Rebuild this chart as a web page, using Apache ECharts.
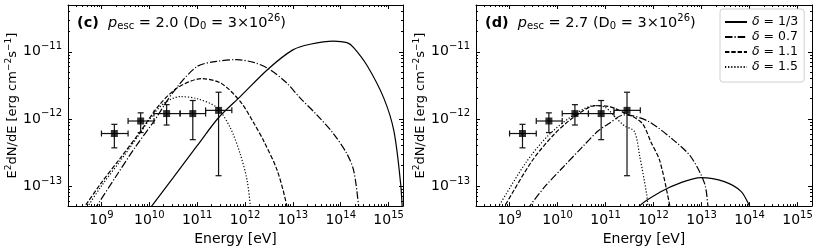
<!DOCTYPE html>
<html><head><meta charset="utf-8">
<script src="https://cdn.jsdelivr.net/npm/echarts@6/dist/echarts.min.js"></script>
<style>html,body{margin:0;padding:0;background:#fff}#c{width:818px;height:251px}</style>
</head><body><div id="c"></div>
<script>
// ---------- data (E in eV, E^2 dN/dE in erg cm^-2 s^-1) ----------
const seriesNames = ['δ = 1/3', 'δ = 0.7', 'δ = 1.1', 'δ = 1.5'];

// measured points (same in both panels)
const obsE    = [1.86e9, 6.6e9, 2.3e10, 8.1e10, 2.8e11];
const obsF    = [6.05e-13, 9.3e-13, 1.2e-12, 1.2e-12, 1.34e-12];
const obsElo  = [1.0e9, 3.6e9, 1.25e10, 4.4e10, 1.5e11];
const obsEhi  = [3.6e9, 1.25e10, 4.4e10, 1.5e11, 5.3e11];
const obsFlo  = [3.7e-13, 6.25e-13, 8.1e-13, 4.9e-13, 1.42e-13];
const obsFhi  = [8.3e-13, 1.23e-12, 1.63e-12, 1.88e-12, 2.5e-12];

// panel (c): p_esc = 2.0
const cSolid = [[8.9e9,4.0e-14],[1.12e10,5.0e-14],[3.16e10,1.33e-13],[1.0e11,3.98e-13],[2.79e11,1.04e-12],[7.94e11,2.15e-12],[3.09e12,5.6e-12],[1.0e13,1.07e-11],[2.29e13,1.3e-11],[7.08e13,1.45e-11],[1.35e14,1.37e-11],[1.86e14,1.16e-11],[3.55e14,6.25e-12],[7.94e14,2.04e-12],[1.29e15,6.6e-13],[1.78e15,1.1e-13],[1.95e15,4.0e-14]];
const cDashDot = [[7.08e8,4.37e-14],[7.94e8,5.0e-14],[2.0e9,1.38e-13],[5.0e9,3.72e-13],[1.26e10,9.3e-13],[3.16e10,2.51e-12],[9.8e10,6.0e-12],[2.51e11,7.2e-12],[6.76e11,7.66e-12],[1.58e12,6.9e-12],[3.09e12,5.6e-12],[7.08e12,3.55e-12],[1.43e13,2.04e-12],[3.16e13,1.15e-12],[7.08e13,6.0e-13],[1.35e14,3.0e-13],[1.86e14,1.7e-13],[2.37e14,5.0e-14],[2.57e14,2.5e-14]];
const cDashed = [[3.98e8,4.37e-14],[4.54e8,5.0e-14],[1.0e9,1.12e-13],[2.51e9,2.63e-13],[6.31e9,6.3e-13],[1.58e10,1.58e-12],[3.98e10,2.95e-12],[1.26e11,3.98e-12],[3.16e11,3.39e-12],[7.94e11,1.82e-12],[1.58e12,8.3e-13],[2.45e12,4.7e-13],[4.68e12,1.72e-13],[7.5e12,5.0e-14],[8.5e12,2.5e-14]];
const cDotted = [[4.68e8,4.37e-14],[5.25e8,5.0e-14],[1.0e9,1.0e-13],[2.51e9,2.4e-13],[6.31e9,6.0e-13],[1.05e10,1.02e-12],[2.0e10,1.7e-12],[4.42e10,2.15e-12],[1.0e11,2.0e-12],[2.57e11,1.48e-12],[4.9e11,7.4e-13],[7.94e11,3.0e-13],[1.1e12,1.23e-13],[1.29e12,5.0e-14],[1.38e12,2.5e-14]];

// panel (d): p_esc = 2.7
const dSolid = [[4.8e11,4.0e-14],[5.07e11,5.0e-14],[1.38e12,8.1e-14],[3.73e12,1.12e-13],[9.7e12,1.33e-13],[2.99e13,1.16e-13],[6.64e13,8.3e-14],[1.0e14,5.0e-14],[1.1e14,4.0e-14]];
const dDashDot = [[2.4e9,4.37e-14],[2.63e9,5.0e-14],[5.6e9,1.0e-13],[1.3e10,1.9e-13],[3.16e10,3.7e-13],[6.97e10,6.6e-13],[1.11e11,8.3e-13],[2.47e11,1.15e-12],[7.55e11,9.3e-13],[2.72e12,4.7e-13],[6.03e12,2.7e-13],[1.15e13,1.1e-13],[1.36e13,5.0e-14],[1.45e13,3.2e-14]];
const dDashed = [[7.08e8,4.37e-14],[7.9e8,5.0e-14],[2.85e9,2.28e-13],[7.94e9,5.6e-13],[2.1e10,1.04e-12],[6.31e10,1.58e-12],[1.26e11,1.51e-12],[2.47e11,1.23e-12],[3.98e11,1.05e-12],[6.03e11,8.3e-13],[8.85e11,4.5e-13],[1.34e12,2.4e-13],[2.19e12,5.0e-14],[2.4e12,3.2e-14]];
const dDotted = [[5.25e8,4.37e-14],[5.94e8,5.0e-14],[2.24e9,2.28e-13],[6.31e9,5.6e-13],[1.79e10,1.04e-12],[5.86e10,1.58e-12],[1.0e11,1.48e-12],[1.68e11,1.02e-12],[2.47e11,7.9e-13],[3.98e11,6.5e-13],[5.14e11,2.8e-13],[7.1e11,7.9e-14],[7.66e11,5.0e-14],[8.1e11,3.2e-14]];

// axis ranges and tick labels
const xMin = 2e8, xMax = 2e15, yMin = 5e-14, yMax = 5e-11;
const xMajor = [1e9, 1e10, 1e11, 1e12, 1e13, 1e14, 1e15];
const yMajor = [1e-13, 1e-12, 1e-11];

// ---------- helpers ----------
const FONT = 'DejaVu Sans';
function minorTicks(lo, hi, e0, e1) {
  const out = [];
  for (let e = e0; e <= e1; e++) for (let m = 2; m <= 9; m++) {
    const v = Number((m + 'e' + e));
    if (v >= lo && v <= hi) out.push(v);
  }
  return out;
}
const xMinor = minorTicks(xMin, xMax, 8, 15);
const yMinor = minorTicks(yMin, yMax, -14, -11);

const tickRich = {
  b: {fontFamily: FONT, fontSize: 14, color: '#000'},
  s: {fontFamily: FONT, fontSize: 10, color: '#000', padding: [0, 0, 10, 0]}
};
function powFmt(v) {
  const e = Math.round(Math.log10(v));
  return '{b|10}{s|' + String(e).replace('-', '\u2212') + '}';
}

function xAxesFor(gi) {
  const base = {type: 'log', logBase: 10, min: xMin, max: xMax, gridIndex: gi, splitLine: {show: false}};
  const line = {show: true, lineStyle: {color: '#000', width: 1}};
  return [
    Object.assign({}, base, {position: 'bottom', axisLine: line,
      axisTick: {show: true, inside: true, length: 4, customValues: xMajor, lineStyle: {color: '#000'}},
      axisLabel: {show: true, customValues: xMajor, formatter: powFmt, rich: tickRich, margin: 4},
      name: 'Energy [eV]', nameLocation: 'middle', nameGap: 19,
      nameTextStyle: {fontFamily: FONT, fontSize: 14, color: '#000'}}),
    Object.assign({}, base, {position: 'bottom', axisLine: {show: false},
      axisTick: {show: true, inside: true, length: 2, customValues: xMinor, lineStyle: {color: '#000'}},
      axisLabel: {show: false}}),
    Object.assign({}, base, {position: 'top', axisLine: line,
      axisTick: {show: true, inside: true, length: 4, customValues: xMajor, lineStyle: {color: '#000'}},
      axisLabel: {show: false}}),
    Object.assign({}, base, {position: 'top', axisLine: {show: false},
      axisTick: {show: true, inside: true, length: 2, customValues: xMinor, lineStyle: {color: '#000'}},
      axisLabel: {show: false}})
  ];
}
function yAxesFor(gi) {
  const base = {type: 'log', logBase: 10, min: yMin, max: yMax, gridIndex: gi, splitLine: {show: false}};
  const line = {show: true, lineStyle: {color: '#000', width: 1}};
  return [
    Object.assign({}, base, {position: 'left', axisLine: line,
      axisTick: {show: true, inside: true, length: 4, customValues: yMajor, lineStyle: {color: '#000'}},
      axisLabel: {show: true, customValues: yMajor, formatter: powFmt, rich: tickRich, margin: 6},
      name: '{n|E}{s|2}{n|dN/dE [erg cm}{s|\u22122}{n|s}{s|\u22121}{n|]}', nameLocation: 'middle', nameGap: 46,
      nameTextStyle: {rich: {
        n: {fontFamily: FONT, fontSize: 13, color: '#000'},
        s: {fontFamily: FONT, fontSize: 9, color: '#000', padding: [0, 0, 9, 0]}
      }}}),
    Object.assign({}, base, {position: 'left', axisLine: {show: false},
      axisTick: {show: true, inside: true, length: 2, customValues: yMinor, lineStyle: {color: '#000'}},
      axisLabel: {show: false}}),
    Object.assign({}, base, {position: 'right', axisLine: line,
      axisTick: {show: true, inside: true, length: 4, customValues: yMajor, lineStyle: {color: '#000'}},
      axisLabel: {show: false}}),
    Object.assign({}, base, {position: 'right', axisLine: {show: false},
      axisTick: {show: true, inside: true, length: 2, customValues: yMinor, lineStyle: {color: '#000'}},
      axisLabel: {show: false}})
  ];
}

const LW = 1.2;
const dashTypes = ['solid', [7.5, 2, 1.2, 2], [4.4, 1.9], [1.2, 1.9]];
function curve(name, data, k, axIdx) {
  return {type: 'line', name: name, data: data, xAxisIndex: axIdx, yAxisIndex: axIdx,
    symbol: 'none', showSymbol: false, smooth: 0.3, clip: true, z: 2,
    itemStyle: {color: '#000'},
    lineStyle: {color: '#000', width: LW, type: dashTypes[k]}};
}
const errData = obsE.map((e, i) => [e, obsF[i], obsElo[i], obsEhi[i], obsFlo[i], obsFhi[i]]);
function errSeries(axIdx) {
  return {type: 'custom', xAxisIndex: axIdx, yAxisIndex: axIdx, data: errData, encode: {x: 0, y: 1}, z: 3,
    renderItem: function (params, api) {
      const x = api.value(0), y = api.value(1);
      const pL = api.coord([api.value(2), y]), pR = api.coord([api.value(3), y]);
      const pB = api.coord([x, api.value(4)]), pT = api.coord([x, api.value(5)]);
      const c = 3;
      const st = {stroke: '#111', lineWidth: 1.2};
      const L = (a, b, d, e) => ({type: 'line', shape: {x1: a, y1: b, x2: d, y2: e}, style: st});
      return {type: 'group', children: [
        L(pL[0], pL[1], pR[0], pR[1]), L(pB[0], pB[1], pT[0], pT[1]),
        L(pL[0], pL[1] - c, pL[0], pL[1] + c), L(pR[0], pR[1] - c, pR[0], pR[1] + c),
        L(pB[0] - c, pB[1], pB[0] + c, pB[1]), L(pT[0] - c, pT[1], pT[0] + c, pT[1])
      ]};
    }};
}
function pointSeries(axIdx) {
  return {type: 'scatter', xAxisIndex: axIdx, yAxisIndex: axIdx, data: obsE.map((e, i) => [e, obsF[i]]),
    symbol: 'rect', symbolSize: 7, itemStyle: {color: '#000'}, z: 4};
}

const titleRich = {
  bd: {fontFamily: FONT, fontSize: 14.5, fontWeight: 'bold', color: '#000'},
  n: {fontFamily: FONT, fontSize: 14.5, fontWeight: 'normal', color: '#000'},
  it: {fontFamily: FONT, fontSize: 14.5, fontWeight: 'normal', fontStyle: 'italic', color: '#000'},
  sb: {fontFamily: FONT, fontSize: 10, fontWeight: 'normal', color: '#000', padding: [7, 0, 0, 0]},
  sp: {fontFamily: FONT, fontSize: 10, fontWeight: 'normal', color: '#000', padding: [0, 0, 10, 0]}
};
function titleText(tag, p) {
  return '{bd|(' + tag + ')}{n|  }{it|p}{sb|esc}{n| = ' + p + ' (D}{sb|0}{n| = 3\u00d710}{sp|26}{n|)}';
}

const chart = echarts.init(document.getElementById('c'), null, {renderer: 'canvas'});
chart.setOption({
  animation: false,
  backgroundColor: '#fff',
  title: [
    {left: 77, top: 13, padding: 0, text: titleText('c', '2.0'), textStyle: {fontWeight: 'normal', rich: titleRich}},
    {left: 485, top: 13, padding: 0, text: titleText('d', '2.7'), textStyle: {fontWeight: 'normal', rich: titleRich}}
  ],
  legend: {
    orient: 'vertical', left: 720, top: 9, padding: [6, 6, 8, 4],
    itemWidth: 22, itemHeight: 10, itemGap: 1,
    itemStyle: {opacity: 0},
    textStyle: {fontFamily: FONT, fontSize: 12.5, color: '#000', lineHeight: 14,
      rich: {i: {fontFamily: FONT, fontSize: 12.5, fontStyle: 'italic', color: '#000'}, n: {fontFamily: FONT, fontSize: 12.5, color: '#000'}}},
    itemTextGap: 8,
    formatter: name => '{i|δ}{n|' + name.slice(1) + '}',
    backgroundColor: '#fff', borderColor: '#d0d0d0', borderWidth: 1, borderRadius: 3,
    data: seriesNames, selectedMode: false
  },
  grid: [
    {left: 68, top: 5, width: 335, height: 205},
    {left: 476, top: 5, width: 336, height: 205}
  ],
  xAxis: xAxesFor(0).concat(xAxesFor(1)),
  yAxis: yAxesFor(0).concat(yAxesFor(1)),
  series: [
    curve(seriesNames[0], cSolid, 0, 0), curve(seriesNames[1], cDashDot, 1, 0),
    curve(seriesNames[2], cDashed, 2, 0), curve(seriesNames[3], cDotted, 3, 0),
    errSeries(0), pointSeries(0),
    curve(seriesNames[0], dSolid, 0, 4), curve(seriesNames[1], dDashDot, 1, 4),
    curve(seriesNames[2], dDashed, 2, 4), curve(seriesNames[3], dDotted, 3, 4),
    errSeries(4), pointSeries(4)
  ]
});
</script></body></html>
